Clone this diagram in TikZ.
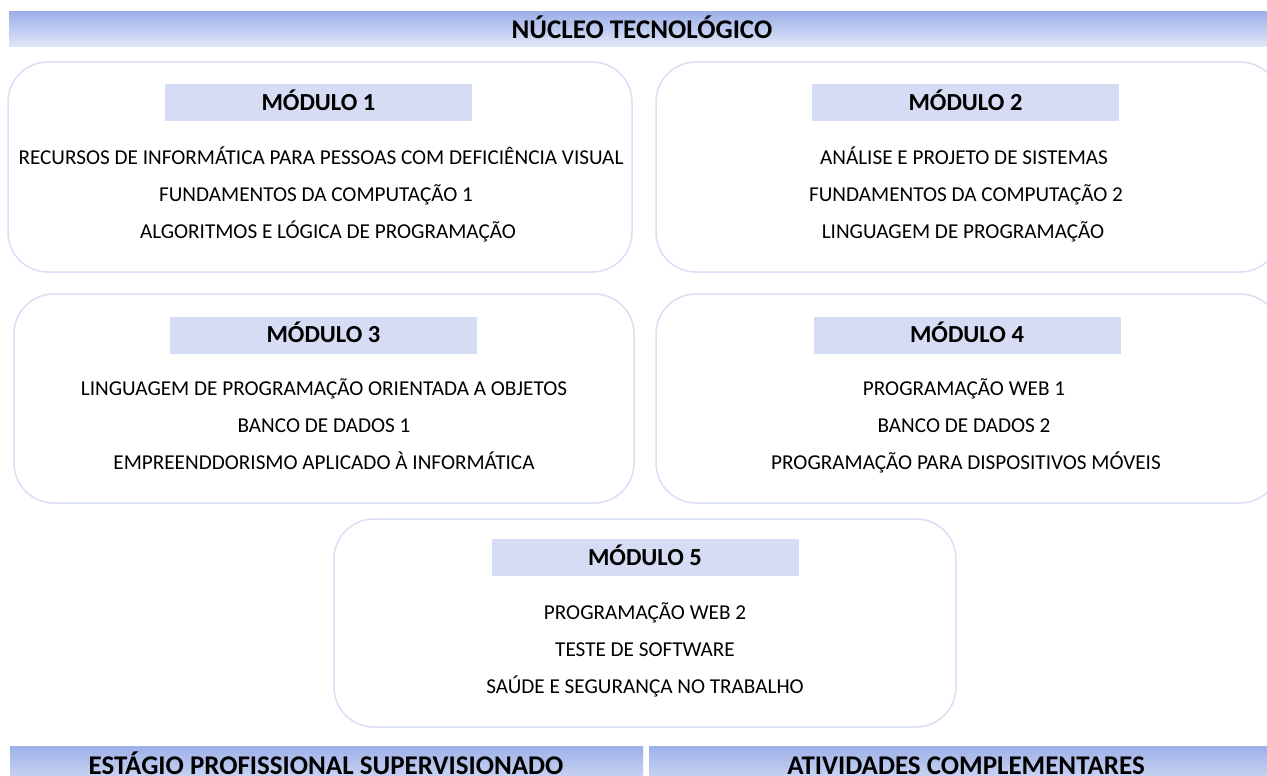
\documentclass[tikz,border=0pt]{standalone}
\usepackage{fontspec}
\setmainfont{Carlito}
\definecolor{barTop}{HTML}{9DB0E8}
\definecolor{barBot}{HTML}{E3E8F8}
\definecolor{hdrFill}{HTML}{D6DCF4}
\definecolor{boxLine}{HTML}{D9DFF4}
\begin{document}
\begin{tikzpicture}[x=1pt,y=-1pt,
  modbox/.style={draw=boxLine, line width=1.5pt, rounded corners=40pt, fill=white, inner sep=0pt},
  hdr/.style={fill=hdrFill, inner sep=0pt, minimum width=307pt, minimum height=37pt,
    text height=15.6pt, text depth=0pt, font=\fontsize{24.5}{28}\selectfont\bfseries},
  bar/.style={top color=barTop, bottom color=barBot, draw=none, inner sep=0pt,
    text height=17.4pt, text depth=0pt, font=\fontsize{27}{31}\selectfont\bfseries},
  bartext/.style={inner sep=0pt, anchor=base, font=\fontsize{27}{31}\selectfont\bfseries},
  item/.style={inner sep=0pt, text height=13.6pt, text depth=0pt, font=\fontsize{21.2}{25}\selectfont}]
\useasboundingbox (0,0) rectangle (1267,776);
\clip (0,0) rectangle (1267,776);
\fill[white] (0,0) rectangle (1267,776);

% top bar
\node[bar, minimum width=1266pt, minimum height=35pt] (nucleo) at (642,29.5) {NÚCLEO TECNOLÓGICO};

% module boxes
\node[modbox, minimum width=624pt, minimum height=210pt] (b1) at (320,167) {};
\node[modbox, minimum width=624pt, minimum height=210pt] (b2) at (968,167) {};
\node[modbox, minimum width=620pt, minimum height=209pt] (b3) at (324,398.5) {};
\node[modbox, minimum width=624pt, minimum height=209pt] (b4) at (968,398.5) {};
\node[modbox, minimum width=622pt, minimum height=208pt] (b5) at (645,623) {};

% headers
\node[hdr] (h1) at (318.5,102.5) {MÓDULO 1};
\node[hdr] (h2) at (965.5,102.5) {MÓDULO 2};
\node[hdr] (h3) at (323.5,335) {MÓDULO 3};
\node[hdr] (h4) at (967,335) {MÓDULO 4};
\node[hdr] (h5) at (645,557.5) {MÓDULO 5};

% module 1
\node[item] (m1a) at (321,158) {RECURSOS DE INFORMÁTICA PARA PESSOAS COM DEFICIÊNCIA VISUAL};
\node[item] (m1b) at (316,195) {FUNDAMENTOS DA COMPUTAÇÃO 1};
\node[item] (m1c) at (328,232) {ALGORITMOS E LÓGICA DE PROGRAMAÇÃO};
% module 2
\node[item] (m2a) at (964,158) {ANÁLISE E PROJETO DE SISTEMAS};
\node[item] (m2b) at (966,195) {FUNDAMENTOS DA COMPUTAÇÃO 2};
\node[item] (m2c) at (963,232) {LINGUAGEM DE PROGRAMAÇÃO};
% module 3
\node[item] (m3a) at (324,389) {LINGUAGEM DE PROGRAMAÇÃO ORIENTADA A OBJETOS};
\node[item] (m3b) at (324,426) {BANCO DE DADOS 1};
\node[item] (m3c) at (324,463) {EMPREENDDORISMO APLICADO À INFORMÁTICA};
% module 4
\node[item] (m4a) at (964,389) {PROGRAMAÇÃO WEB 1};
\node[item] (m4b) at (964,426) {BANCO DE DADOS 2};
\node[item] (m4c) at (966,463) {PROGRAMAÇÃO PARA DISPOSITIVOS MÓVEIS};
% module 5
\node[item] (m5a) at (645,613) {PROGRAMAÇÃO WEB 2};
\node[item] (m5b) at (645,650) {TESTE DE SOFTWARE};
\node[item] (m5c) at (645,687) {SAÚDE E SEGURANÇA NO TRABALHO};

% bottom bars
\node[bar, minimum width=633pt, minimum height=50pt, anchor=north west] (estagioBar) at (10,746) {};
\node[bar, minimum width=625pt, minimum height=50pt, anchor=north west] (ativBar) at (649,746) {};
\node[bartext] (estagio) at (326,774) {ESTÁGIO PROFISSIONAL SUPERVISIONADO};
\node[bartext] (ativ) at (966,774) {ATIVIDADES COMPLEMENTARES};
\end{tikzpicture}
\end{document}
